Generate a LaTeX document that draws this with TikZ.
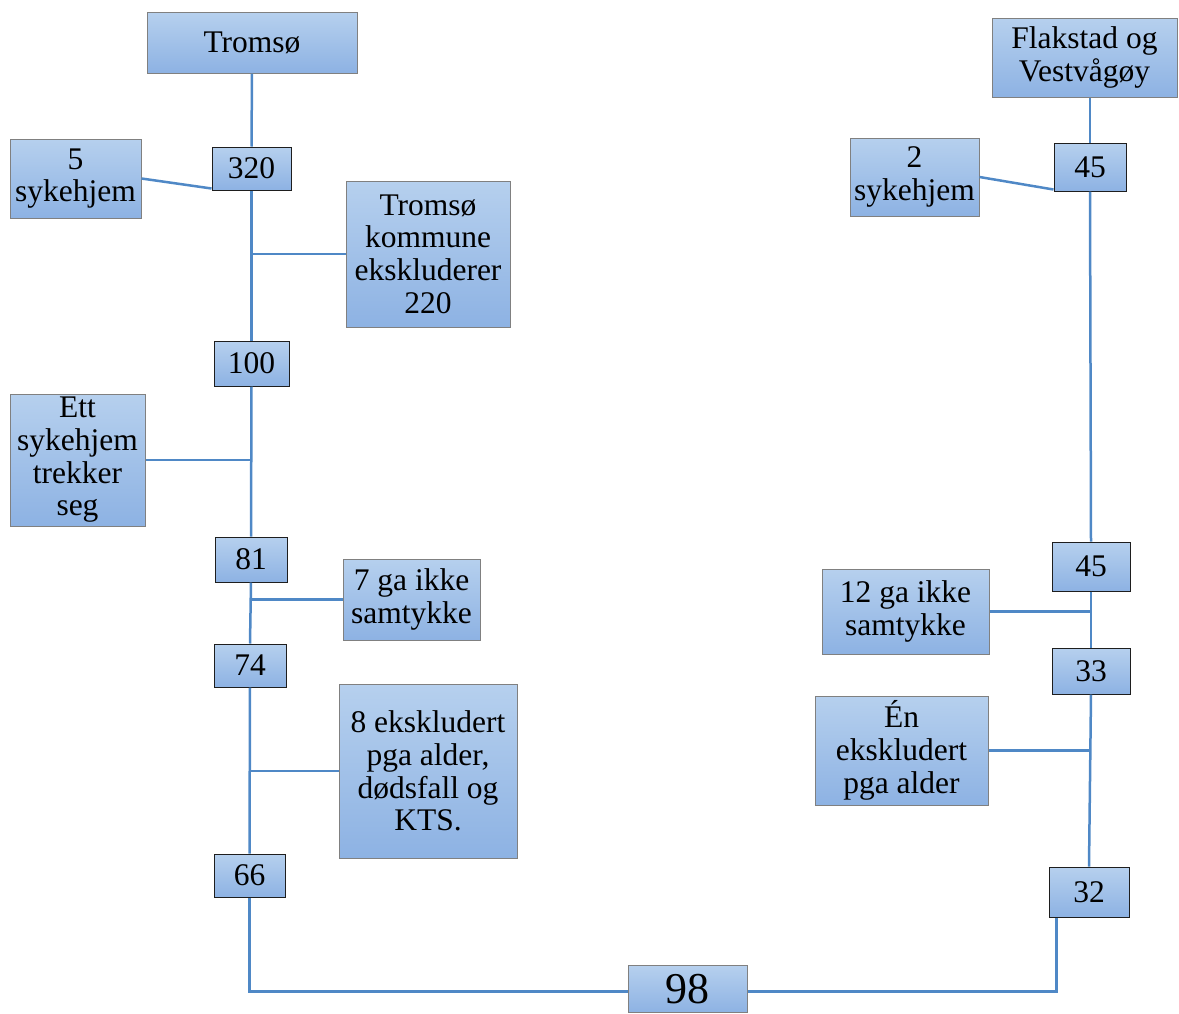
\documentclass[tikz,border=0pt]{standalone}
\usepackage{fontspec}
\setmainfont{Liberation Serif}
\definecolor{linec}{RGB}{79,136,198}
\definecolor{topc}{RGB}{182,208,238}
\definecolor{botc}{RGB}{141,178,227}
\definecolor{bigborder}{RGB}{128,128,128}
\definecolor{numborder}{RGB}{30,30,30}
\tikzset{
  boxbase/.style={rectangle, inner sep=0pt, top color=topc, bottom color=botc, align=center,
    font=\fontsize{31.5}{32.7}\selectfont, text=black},
  bigbox/.style={boxbase, draw=bigborder, line width=1pt},
  numbox/.style={boxbase, draw=numborder, line width=1pt},
  conn/.style={draw=linec, line width=2.5pt}
}
\begin{document}
\begin{tikzpicture}[x=1pt,y=-1pt]
\useasboundingbox (0,0) rectangle (1179,1013);
% Left column
\node[bigbox, minimum width=210pt, minimum height=61pt] (trom) at (252,42.5) {Tromsø};
\node[numbox, minimum width=79pt, minimum height=43pt] (n320) at (251.5,168.5) {320};
\node[bigbox, minimum width=131pt, minimum height=79pt] (s5) at (75.5,178.5) {5\\sykehjem};
\node[bigbox, minimum width=164pt, minimum height=146pt] (kom) at (428,254) {Tromsø\\kommune\\ekskluderer\\220};
\node[numbox, minimum width=75pt, minimum height=45pt] (n100) at (251.5,363.5) {100};
\node[bigbox, minimum width=135pt, minimum height=132pt] (ett) at (77.5,460) {Ett\\sykehjem\\trekker\\seg};
\node[numbox, minimum width=72pt, minimum height=45pt] (n81) at (251,559.5) {81};
\node[bigbox, minimum width=137pt, minimum height=81pt] (ga7) at (411.5,599.5) {7 ga ikke\\samtykke};
\node[numbox, minimum width=72pt, minimum height=43pt] (n74) at (250,665.5) {74};
\node[bigbox, minimum width=178pt, minimum height=174pt] (eks8) at (428,771) {8 ekskludert\\pga alder,\\dødsfall og\\KTS.};
\node[numbox, minimum width=71pt, minimum height=43pt] (n66) at (249.5,875.5) {66};
% Bottom
\node[bigbox, minimum width=119pt, minimum height=47pt, font=\fontsize{44}{48}\selectfont] (n98) at (687.5,989) {98};
% Right column
\node[bigbox, minimum width=185pt, minimum height=79pt] (flak) at (1084.5,57.5) {Flakstad og\\Vestvågøy};
\node[numbox, minimum width=72pt, minimum height=48pt] (n45a) at (1090,167) {45};
\node[bigbox, minimum width=129pt, minimum height=78pt] (s2) at (914.5,177) {2\\sykehjem};
\node[numbox, minimum width=78pt, minimum height=49pt] (n45b) at (1091,566.5) {45};
\node[bigbox, minimum width=167pt, minimum height=85pt] (ga12) at (905.5,611.5) {12 ga ikke\\samtykke};
\node[numbox, minimum width=78pt, minimum height=46pt] (n33) at (1091,671) {33};
\node[bigbox, minimum width=173pt, minimum height=109pt] (en) at (901.5,750.5) {Én\\ekskludert\\pga alder};
\node[numbox, minimum width=80pt, minimum height=50pt] (n32) at (1089,892) {32};
% Connectors left
\draw[conn] (trom.south) -- (n320.north);
\draw[conn] (s5.east) -- ([yshift=2pt]n320.south west);
\draw[conn] (n320.south) -- (n100.north);
\draw[conn] (kom.west) -- (kom.west -| n320.south);
\draw[conn] (n100.south) -- (n81.north);
\draw[conn] (ett.east) -- (ett.east -| n100.south);
\draw[conn] (n81.south) -- (n74.north);
\draw[conn] (ga7.west) -- (ga7.west -| n81.south);
\draw[conn] (n74.south) -- (n66.north);
\draw[conn] (eks8.west) -- (eks8.west -| n74.south);
\draw[conn] (n66.south) |- ([yshift=-2.5pt]n98.west);
% Connectors right
\draw[conn] ([yshift=-2.5pt]n98.east) -| ([xshift=8pt]n32.south west);
\draw[conn] (flak.south -| n45a.north) -- (n45a.north);
\draw[conn] (s2.east) -- ([yshift=2pt]n45a.south west);
\draw[conn] (n45a.south) -- (n45b.north);
\draw[conn] (n45b.south) -- (n33.north);
\draw[conn] (ga12.east) -- (ga12.east -| n45b.south);
\draw[conn] (n33.south) -- (n32.north);
\draw[conn] (en.east) -- (en.east -| n33.south);
\end{tikzpicture}
\end{document}
